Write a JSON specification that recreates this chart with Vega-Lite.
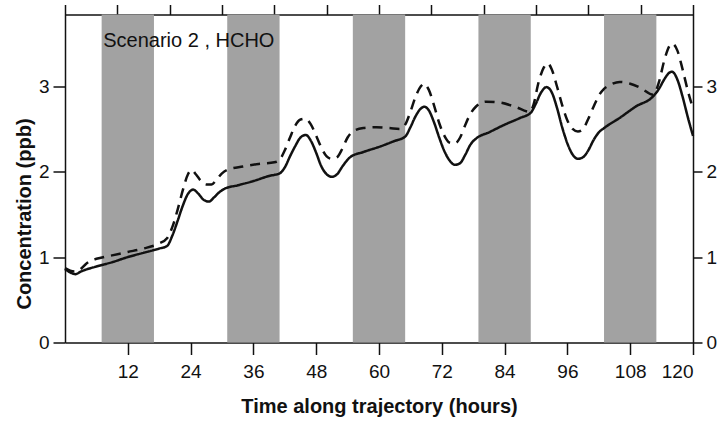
{
  "$schema": "https://vega.github.io/schema/vega-lite/v6.json",
  "width": 628,
  "height": 328,
  "autosize": {"type": "none"},
  "padding": {"left": 65, "top": 14.5, "right": 30, "bottom": 79.5},
  "background": "white",
  "config": {
    "font": "Liberation Sans",
    "view": {"stroke": null},
    "axis": {
      "domainColor": "#111",
      "domainWidth": 1.5,
      "tickColor": "#111",
      "tickWidth": 1.5,
      "grid": false,
      "labelColor": "#111",
      "labelFontSize": 19,
      "labelFont": "Liberation Sans",
      "titleFont": "Liberation Sans",
      "titleColor": "#111"
    }
  },
  "datasets": {
    "nights": [
      {"start": 7, "end": 17},
      {"start": 31, "end": 41},
      {"start": 55, "end": 65},
      {"start": 79, "end": 89},
      {"start": 103, "end": 113}
    ],
    "series": [
      {"hour": 0, "ppb": 0.86, "run": "base"},
      {"hour": 1, "ppb": 0.82, "run": "base"},
      {"hour": 2, "ppb": 0.8, "run": "base"},
      {"hour": 3, "ppb": 0.83, "run": "base"},
      {"hour": 6, "ppb": 0.89, "run": "base"},
      {"hour": 9, "ppb": 0.94, "run": "base"},
      {"hour": 12, "ppb": 1.0, "run": "base"},
      {"hour": 15, "ppb": 1.05, "run": "base"},
      {"hour": 18, "ppb": 1.1, "run": "base"},
      {"hour": 19.5, "ppb": 1.13, "run": "base"},
      {"hour": 20.5, "ppb": 1.25, "run": "base"},
      {"hour": 21.5, "ppb": 1.42, "run": "base"},
      {"hour": 22.5, "ppb": 1.6, "run": "base"},
      {"hour": 23.5, "ppb": 1.74, "run": "base"},
      {"hour": 24.5, "ppb": 1.79, "run": "base"},
      {"hour": 25.5, "ppb": 1.74, "run": "base"},
      {"hour": 26.5, "ppb": 1.67, "run": "base"},
      {"hour": 27.5, "ppb": 1.65, "run": "base"},
      {"hour": 28.5, "ppb": 1.7, "run": "base"},
      {"hour": 29.5, "ppb": 1.76, "run": "base"},
      {"hour": 30.5, "ppb": 1.8, "run": "base"},
      {"hour": 33, "ppb": 1.84, "run": "base"},
      {"hour": 36, "ppb": 1.89, "run": "base"},
      {"hour": 39, "ppb": 1.95, "run": "base"},
      {"hour": 41, "ppb": 1.98, "run": "base"},
      {"hour": 42, "ppb": 2.05, "run": "base"},
      {"hour": 43, "ppb": 2.18, "run": "base"},
      {"hour": 44, "ppb": 2.3, "run": "base"},
      {"hour": 45, "ppb": 2.4, "run": "base"},
      {"hour": 46, "ppb": 2.43, "run": "base"},
      {"hour": 47, "ppb": 2.36, "run": "base"},
      {"hour": 48, "ppb": 2.22, "run": "base"},
      {"hour": 49, "ppb": 2.06, "run": "base"},
      {"hour": 50, "ppb": 1.97, "run": "base"},
      {"hour": 51, "ppb": 1.94, "run": "base"},
      {"hour": 52, "ppb": 1.97, "run": "base"},
      {"hour": 53, "ppb": 2.06, "run": "base"},
      {"hour": 54.5, "ppb": 2.17, "run": "base"},
      {"hour": 57, "ppb": 2.23, "run": "base"},
      {"hour": 60, "ppb": 2.29, "run": "base"},
      {"hour": 63, "ppb": 2.36, "run": "base"},
      {"hour": 65, "ppb": 2.41, "run": "base"},
      {"hour": 66, "ppb": 2.52, "run": "base"},
      {"hour": 67, "ppb": 2.65, "run": "base"},
      {"hour": 68, "ppb": 2.74, "run": "base"},
      {"hour": 68.7, "ppb": 2.76, "run": "base"},
      {"hour": 69.5, "ppb": 2.72, "run": "base"},
      {"hour": 70.5, "ppb": 2.58, "run": "base"},
      {"hour": 71.5, "ppb": 2.4, "run": "base"},
      {"hour": 72.5, "ppb": 2.24, "run": "base"},
      {"hour": 73.5, "ppb": 2.13, "run": "base"},
      {"hour": 74.5, "ppb": 2.08, "run": "base"},
      {"hour": 75.5, "ppb": 2.1, "run": "base"},
      {"hour": 76.5, "ppb": 2.2, "run": "base"},
      {"hour": 77.5, "ppb": 2.32, "run": "base"},
      {"hour": 78.6, "ppb": 2.39, "run": "base"},
      {"hour": 81, "ppb": 2.46, "run": "base"},
      {"hour": 84, "ppb": 2.55, "run": "base"},
      {"hour": 87, "ppb": 2.63, "run": "base"},
      {"hour": 89, "ppb": 2.69, "run": "base"},
      {"hour": 90, "ppb": 2.8, "run": "base"},
      {"hour": 91, "ppb": 2.93, "run": "base"},
      {"hour": 92, "ppb": 2.99, "run": "base"},
      {"hour": 93, "ppb": 2.93, "run": "base"},
      {"hour": 94, "ppb": 2.75, "run": "base"},
      {"hour": 95, "ppb": 2.52, "run": "base"},
      {"hour": 96, "ppb": 2.33, "run": "base"},
      {"hour": 97, "ppb": 2.2, "run": "base"},
      {"hour": 98, "ppb": 2.15, "run": "base"},
      {"hour": 99, "ppb": 2.17, "run": "base"},
      {"hour": 100, "ppb": 2.25, "run": "base"},
      {"hour": 101, "ppb": 2.37, "run": "base"},
      {"hour": 102, "ppb": 2.46, "run": "base"},
      {"hour": 103, "ppb": 2.51, "run": "base"},
      {"hour": 106, "ppb": 2.63, "run": "base"},
      {"hour": 109, "ppb": 2.76, "run": "base"},
      {"hour": 112.5, "ppb": 2.89, "run": "base"},
      {"hour": 113.5, "ppb": 2.97, "run": "base"},
      {"hour": 114.5, "ppb": 3.08, "run": "base"},
      {"hour": 115.5, "ppb": 3.16, "run": "base"},
      {"hour": 116, "ppb": 3.17, "run": "base"},
      {"hour": 117, "ppb": 3.08, "run": "base"},
      {"hour": 118, "ppb": 2.88, "run": "base"},
      {"hour": 119, "ppb": 2.64, "run": "base"},
      {"hour": 120, "ppb": 2.42, "run": "base"},

      {"hour": 0, "ppb": 0.87, "run": "alt"},
      {"hour": 1, "ppb": 0.84, "run": "alt"},
      {"hour": 2, "ppb": 0.83, "run": "alt"},
      {"hour": 3, "ppb": 0.86, "run": "alt"},
      {"hour": 4, "ppb": 0.92, "run": "alt"},
      {"hour": 5, "ppb": 0.96, "run": "alt"},
      {"hour": 6, "ppb": 0.98, "run": "alt"},
      {"hour": 9, "ppb": 1.02, "run": "alt"},
      {"hour": 12, "ppb": 1.06, "run": "alt"},
      {"hour": 15, "ppb": 1.1, "run": "alt"},
      {"hour": 18, "ppb": 1.16, "run": "alt"},
      {"hour": 19.5, "ppb": 1.22, "run": "alt"},
      {"hour": 20.5, "ppb": 1.35, "run": "alt"},
      {"hour": 21.5, "ppb": 1.55, "run": "alt"},
      {"hour": 22.5, "ppb": 1.78, "run": "alt"},
      {"hour": 23.5, "ppb": 1.97, "run": "alt"},
      {"hour": 24.2, "ppb": 2.02, "run": "alt"},
      {"hour": 25, "ppb": 1.97, "run": "alt"},
      {"hour": 26, "ppb": 1.89, "run": "alt"},
      {"hour": 27, "ppb": 1.85, "run": "alt"},
      {"hour": 28, "ppb": 1.85, "run": "alt"},
      {"hour": 29, "ppb": 1.91, "run": "alt"},
      {"hour": 30, "ppb": 1.98, "run": "alt"},
      {"hour": 31, "ppb": 2.02, "run": "alt"},
      {"hour": 34, "ppb": 2.06, "run": "alt"},
      {"hour": 37, "ppb": 2.09, "run": "alt"},
      {"hour": 40, "ppb": 2.11, "run": "alt"},
      {"hour": 41, "ppb": 2.14, "run": "alt"},
      {"hour": 42, "ppb": 2.25, "run": "alt"},
      {"hour": 43, "ppb": 2.4, "run": "alt"},
      {"hour": 44, "ppb": 2.54, "run": "alt"},
      {"hour": 45, "ppb": 2.61, "run": "alt"},
      {"hour": 46, "ppb": 2.62, "run": "alt"},
      {"hour": 47, "ppb": 2.55, "run": "alt"},
      {"hour": 48, "ppb": 2.42, "run": "alt"},
      {"hour": 49, "ppb": 2.28, "run": "alt"},
      {"hour": 50, "ppb": 2.18, "run": "alt"},
      {"hour": 51, "ppb": 2.15, "run": "alt"},
      {"hour": 52, "ppb": 2.17, "run": "alt"},
      {"hour": 53, "ppb": 2.27, "run": "alt"},
      {"hour": 54, "ppb": 2.4, "run": "alt"},
      {"hour": 55, "ppb": 2.47, "run": "alt"},
      {"hour": 57, "ppb": 2.51, "run": "alt"},
      {"hour": 59.5, "ppb": 2.52, "run": "alt"},
      {"hour": 62, "ppb": 2.51, "run": "alt"},
      {"hour": 64, "ppb": 2.5, "run": "alt"},
      {"hour": 65, "ppb": 2.55, "run": "alt"},
      {"hour": 66, "ppb": 2.7, "run": "alt"},
      {"hour": 67, "ppb": 2.88, "run": "alt"},
      {"hour": 68, "ppb": 3.0, "run": "alt"},
      {"hour": 68.6, "ppb": 3.03, "run": "alt"},
      {"hour": 69.5, "ppb": 2.96, "run": "alt"},
      {"hour": 70.5, "ppb": 2.78, "run": "alt"},
      {"hour": 71.5, "ppb": 2.57, "run": "alt"},
      {"hour": 72.5, "ppb": 2.42, "run": "alt"},
      {"hour": 73.5, "ppb": 2.34, "run": "alt"},
      {"hour": 74.5, "ppb": 2.33, "run": "alt"},
      {"hour": 75.5, "ppb": 2.4, "run": "alt"},
      {"hour": 76.5, "ppb": 2.55, "run": "alt"},
      {"hour": 77.5, "ppb": 2.68, "run": "alt"},
      {"hour": 78.5, "ppb": 2.76, "run": "alt"},
      {"hour": 80.5, "ppb": 2.82, "run": "alt"},
      {"hour": 83, "ppb": 2.81, "run": "alt"},
      {"hour": 86, "ppb": 2.76, "run": "alt"},
      {"hour": 88.8, "ppb": 2.7, "run": "alt"},
      {"hour": 89.5, "ppb": 2.78, "run": "alt"},
      {"hour": 90.5, "ppb": 3.05, "run": "alt"},
      {"hour": 91.5, "ppb": 3.22, "run": "alt"},
      {"hour": 92.2, "ppb": 3.27, "run": "alt"},
      {"hour": 93, "ppb": 3.2, "run": "alt"},
      {"hour": 94, "ppb": 3.0, "run": "alt"},
      {"hour": 95, "ppb": 2.78, "run": "alt"},
      {"hour": 96, "ppb": 2.6, "run": "alt"},
      {"hour": 97, "ppb": 2.5, "run": "alt"},
      {"hour": 98, "ppb": 2.47, "run": "alt"},
      {"hour": 99, "ppb": 2.5, "run": "alt"},
      {"hour": 100, "ppb": 2.62, "run": "alt"},
      {"hour": 101, "ppb": 2.76, "run": "alt"},
      {"hour": 102, "ppb": 2.89, "run": "alt"},
      {"hour": 103, "ppb": 2.97, "run": "alt"},
      {"hour": 104, "ppb": 3.01, "run": "alt"},
      {"hour": 106, "ppb": 3.05, "run": "alt"},
      {"hour": 108, "ppb": 3.03, "run": "alt"},
      {"hour": 110, "ppb": 2.98, "run": "alt"},
      {"hour": 112.4, "ppb": 2.9, "run": "alt"},
      {"hour": 113.5, "ppb": 3.05, "run": "alt"},
      {"hour": 114.5, "ppb": 3.3, "run": "alt"},
      {"hour": 115.5, "ppb": 3.47, "run": "alt"},
      {"hour": 116, "ppb": 3.5, "run": "alt"},
      {"hour": 117, "ppb": 3.42, "run": "alt"},
      {"hour": 118, "ppb": 3.2, "run": "alt"},
      {"hour": 119, "ppb": 2.95, "run": "alt"},
      {"hour": 120, "ppb": 2.74, "run": "alt"}
    ],
    "label": [
      {"hour": 7.3, "ppb": 3.455, "text": "Scenario 2 , HCHO"}
    ]
  },
  "resolve": {"axis": {"x": "independent", "y": "independent"}},
  "layer": [
    {
      "data": {"name": "nights"},
      "mark": {"type": "rect", "color": "#a2a2a2"},
      "encoding": {
        "x": {"field": "start", "type": "quantitative", "scale": {"domain": [0, 120], "nice": false}, "axis": null},
        "x2": {"field": "end"}
      }
    },
    {
      "data": {"name": "series"},
      "mark": {"type": "line", "color": "#111", "strokeWidth": 2.5, "interpolate": "monotone"},
      "encoding": {
        "x": {
          "field": "hour", "type": "quantitative",
          "scale": {"domain": [0, 120], "nice": false},
          "axis": {
            "orient": "bottom",
            "values": [12, 24, 36, 48, 60, 72, 84, 96, 108, 120],
            "tickSize": 12,
            "labelPadding": 8,
            "title": "Time along trajectory (hours)",
            "titleFontSize": 20,
            "titleFontWeight": "bold",
            "titleBaseline": "alphabetic",
            "titleY": 70
          }
        },
        "y": {
          "field": "ppb", "type": "quantitative",
          "scale": {"domain": [0, 3.84], "nice": false, "zero": true},
          "axis": {
            "orient": "left",
            "values": [0, 1, 2, 3],
            "tickSize": 12,
            "labelPadding": 4,
            "title": "Concentration (ppb)",
            "titleFontSize": 20,
            "titleFontWeight": "bold",
            "titleBaseline": "alphabetic",
            "titleAngle": -90,
            "titleX": -35,
            "titleY": 199
          }
        },
        "detail": {"field": "run"},
        "strokeDash": {
          "field": "run", "type": "nominal",
          "scale": {"domain": ["base", "alt"], "range": [[1, 0], [10, 7]]},
          "legend": null
        }
      }
    },
    {
      "data": {"name": "label"},
      "mark": {"type": "text", "align": "left", "baseline": "alphabetic", "fontSize": 20, "color": "#111", "font": "Liberation Sans"},
      "encoding": {
        "x": {
          "field": "hour", "type": "quantitative",
          "scale": {"domain": [0, 120], "nice": false},
          "axis": {
            "orient": "top",
            "values": [0, 10, 20, 30, 40, 50, 60, 70, 80, 90, 100, 110, 120],
            "tickSize": 10,
            "labels": false,
            "title": null
          }
        },
        "y": {
          "field": "ppb", "type": "quantitative",
          "scale": {"domain": [0, 3.84], "nice": false, "zero": true},
          "axis": {
            "orient": "right",
            "values": [0, 1, 2, 3],
            "tickSize": 9,
            "labelPadding": 4,
            "title": null
          }
        },
        "text": {"field": "text"}
      }
    }
  ]
}
